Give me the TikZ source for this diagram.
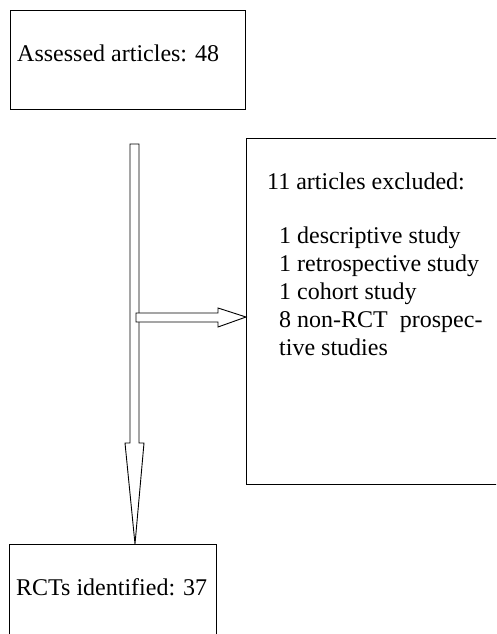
\documentclass[tikz,border=0pt]{standalone}
\usepackage{fontspec}
\setmainfont{Liberation Serif}
\usetikzlibrary{positioning,calc}

\tikzset{
  flowbox/.style={draw, line width=0.9pt, inner sep=0pt, anchor=north west},
  boxtext/.style={anchor=base west, inner sep=0pt, font=\fontsize{24}{28}\selectfont},
  blockarrow/.style={draw, line width=0.9pt, fill=white, line join=miter},
}

\begin{document}
\begin{tikzpicture}[x=1pt,y=-1pt]
\useasboundingbox (0,0) rectangle (496,634);
\clip (0,0) rectangle (496,634);

% Boxes (right and bottom ones run off the page)
\node[flowbox, minimum width=235pt, minimum height=99pt] (assessed) at (10,10) {};
\node[flowbox, minimum width=270pt, minimum height=346pt] (excluded) at (246,138) {};
\node[flowbox, minimum width=207pt, minimum height=110pt] (rcts) at (9,544) {};

% Box texts
\node[boxtext] (assessedtext) at (17,62) {Assessed articles: 48};
\node[boxtext] (excludedtext) at (267,189) {11 articles excluded:};
\foreach \i/\txt in {0/1 descriptive study, 1/1 retrospective study, 2/1 cohort study,
                     3/8 non-RCT\ \ prospec-, 4/tive studies}
  \node[boxtext] (reason\i) at (279,{243+28*\i}) {\txt};
\node[boxtext] (rctstext) at (16,595) {RCTs identified: 37};

% Arrow tips on the box edges
\coordinate (vtip) at ([xshift=126pt]rcts.north west);
\coordinate (htip) at (excluded.west |- 0,317);

% Main block arrow down
\draw[blockarrow] (130,144) -- (139,144) -- (139,443) -- (144,443) -- (vtip)
  -- (125,443) -- (130,443) -- cycle;

% Side block arrow to the excluded box
\draw[blockarrow] (136,313) -- (218,313) -- (218,308) -- (htip)
  -- (218,327) -- (218,322) -- (136,322) -- cycle;

\end{tikzpicture}
\end{document}
